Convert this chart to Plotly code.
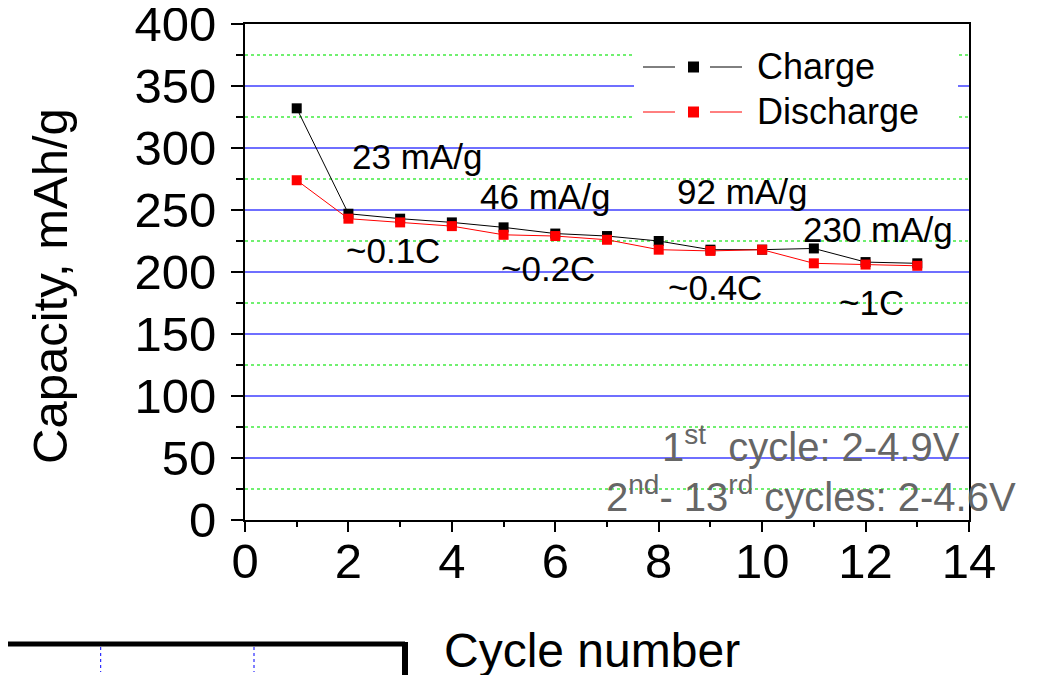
import plotly.graph_objects as go

# cycling data
cycles = [1, 2, 3, 4, 5, 6, 7, 8, 9, 10, 11, 12, 13]
charge = [332, 247, 243, 240, 236, 231, 229, 225, 218, 218, 219, 208, 207]
discharge = [274, 243, 240, 237, 230, 229, 226, 218, 217, 218, 207, 206, 205]
series_names = ['Charge', 'Discharge']
series_colors = ['black', 'red']

rate_labels = ['23 mA/g', '46 mA/g', '92 mA/g', '230 mA/g']
crate_labels = ['~0.1C', '~0.2C', '~0.4C', '~1C']
voltage_notes = ['1<sup>st</sup>  cycle: 2-4.9V', '2<sup>nd</sup>- 13<sup>rd</sup> cycles: 2-4.6V']

FONT = 'Arial, Liberation Sans, sans-serif'

# the page puts the figure 8px in from the top-left corner
OFF = 8
# plot area as seen on screen: x 245..969, y 24..520
L, R, T, B = 245 - OFF, 969 - OFF, 24 - OFF, 520 - OFF
W, H = 1049, 675


def px(x):
    return (x - OFF - L) / (R - L)


def py(y):
    return (B - (y - OFF)) / (B - T)


fig = go.Figure()
for name, vals, col in zip(series_names, [charge, discharge], series_colors):
    fig.add_trace(go.Scatter(x=cycles, y=vals, name=name, mode='lines+markers',
                             line=dict(color=col, width=1),
                             marker=dict(symbol='square', size=10, color=col),
                             showlegend=False))

ann = []
# rate labels (screen centres)
for txt, (cx, cy) in zip(rate_labels, [(417, 156), (545, 196), (742, 191), (878, 229)]):
    ann.append(dict(x=px(cx), y=py(cy), text=txt))
for txt, (cx, cy) in zip(crate_labels, [(393, 250), (548, 268), (715, 287), (871, 302)]):
    ann.append(dict(x=px(cx), y=py(cy), text=txt))
for a in ann:
    a.update(xref='paper', yref='paper', showarrow=False, xanchor='center', yanchor='middle',
             font=dict(family=FONT, size=35, color='black'))

for txt, cy in zip(voltage_notes, [444, 494]):
    ann.append(dict(x=px(811), y=py(cy), xref='paper', yref='paper', text=txt, showarrow=False,
                    xanchor='center', yanchor='middle',
                    font=dict(family=FONT, size=40, color='#666666')))

shapes = []
# hand drawn legend box
shapes.append(dict(type='rect', xref='paper', yref='paper', x0=px(634), x1=px(958),
                   y0=py(134), y1=py(36), fillcolor='white', line=dict(width=0), layer='above'))
for name, col, ry in zip(series_names, series_colors, [67, 112]):
    for x0, x1 in [(643, 675), (710, 742)]:
        shapes.append(dict(type='line', xref='paper', yref='paper', x0=px(x0), x1=px(x1),
                           y0=py(ry), y1=py(ry), line=dict(color=col, width=1), layer='above'))
    shapes.append(dict(type='rect', xref='paper', yref='paper', x0=px(688), x1=px(699),
                       y0=py(ry + 5.5), y1=py(ry - 5.5), fillcolor=col, line=dict(width=0),
                       layer='above'))
    ann.append(dict(x=px(755), y=py(ry), xref='paper', yref='paper', text=name, showarrow=False,
                    xanchor='left', yanchor='middle',
                    font=dict(family=FONT, size=36, color='black')))

# pieces of the neighbouring figure visible at the bottom-left
shapes.append(dict(type='line', xref='paper', yref='paper', x0=px(0), x1=px(405),
                   y0=py(644), y1=py(644), line=dict(color='black', width=5)))
shapes.append(dict(type='line', xref='paper', yref='paper', x0=px(405), x1=px(405),
                   y0=py(642), y1=py(680), line=dict(color='black', width=6)))
for xv in [100.7, 254]:
    shapes.append(dict(type='line', xref='paper', yref='paper', x0=px(xv), x1=px(xv),
                       y0=py(647), y1=py(672), line=dict(color='blue', width=1, dash='dot')))

ann.append(dict(x=px(592), y=py(650), xref='paper', yref='paper', text='Cycle number',
                showarrow=False, xanchor='center', yanchor='middle',
                font=dict(family=FONT, size=48, color='black')))
ann.append(dict(x=px(50), y=py(286), xref='paper', yref='paper', text='Capacity, mAh/g',
                showarrow=False, textangle=-90, xanchor='center', yanchor='middle',
                font=dict(family=FONT, size=49, color='black')))

axis_common = dict(showline=True, linecolor='black', linewidth=2, mirror=True,
                   ticks='outside', tickwidth=2, tickcolor='black', zeroline=False,
                   automargin=False, ticklabeloverflow='allow',
                   tickfont=dict(family=FONT, size=49, color='black'))

fig.update_layout(
    width=W, height=H,
    margin=dict(l=L, r=W - R, t=T, b=H - B),
    paper_bgcolor='white', plot_bgcolor='white',
    font=dict(family=FONT, color='black'),
    xaxis=dict(range=[0, 14], dtick=2, tick0=0, ticklen=10, showgrid=False,
               ticklabelstandoff=-13,
               minor=dict(dtick=1, ticklen=5, tickwidth=2, tickcolor='black', ticks='outside'),
               **axis_common),
    yaxis=dict(range=[0, 400], dtick=50, tick0=0, ticklen=12, ticklabelstandoff=5,
               showgrid=True, gridcolor='#6f6fff', gridwidth=1.5,
               minor=dict(dtick=25, ticklen=7, tickwidth=2, tickcolor='black', ticks='outside',
                          showgrid=True, gridcolor='#70f070', griddash='dot', gridwidth=1.5),
               **axis_common),
    xaxis2=dict(overlaying='x', side='top', anchor='y', range=[0, 14], dtick=1, ticks='outside',
                ticklen=4, tickwidth=2, tickcolor='black', showticklabels=False,
                showgrid=False, zeroline=False, showline=False),
    yaxis2=dict(overlaying='y', side='right', anchor='x', range=[0, 400], dtick=25, ticks='outside',
                ticklen=4, tickwidth=2, tickcolor='black', showticklabels=False,
                showgrid=False, zeroline=False, showline=False),
    annotations=ann,
    shapes=shapes,
)

fig.write_html("out.html")
